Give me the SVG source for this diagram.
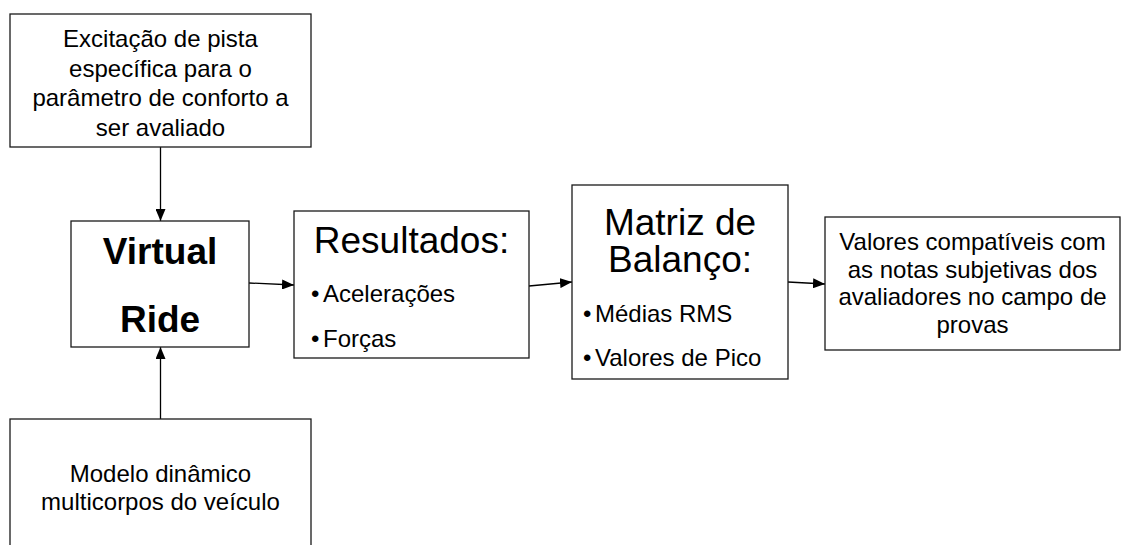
<svg xmlns="http://www.w3.org/2000/svg" width="1123" height="545" viewBox="0 0 1123 545">
<style>
.box{fill:#fff;stroke:#1a1a1a;stroke-width:1.3}
.t{font-family:"Liberation Sans",Arial,sans-serif;font-size:24px;fill:#000}
.c{text-anchor:middle}
.big{font-size:37px}
.b{font-weight:bold;font-size:37px}
.ln{stroke:#000;stroke-width:1.3;fill:none}
</style>
<defs>
<marker id="ah" markerWidth="12" markerHeight="10" refX="12" refY="5" orient="auto" markerUnits="userSpaceOnUse">
<path d="M0,0 L12,5 L0,10 Z" fill="#000"/>
</marker>
</defs>
<rect width="1123" height="545" fill="#fff"/>
<g id="connectors">
<line class="ln" x1="160.5" y1="147" x2="160.5" y2="221" marker-end="url(#ah)"/>
<line class="ln" x1="160.5" y1="419" x2="160.5" y2="347" marker-end="url(#ah)"/>
<line class="ln" x1="249" y1="283" x2="294" y2="285" marker-end="url(#ah)"/>
<line class="ln" x1="529" y1="286" x2="572" y2="282" marker-end="url(#ah)"/>
<line class="ln" x1="788" y1="282" x2="825" y2="284" marker-end="url(#ah)"/>
</g>
<g id="excitacao">
<rect class="box" x="10" y="14" width="301" height="133"/>
<text class="t c" x="160.5" y="47">Excitação de pista</text>
<text class="t c" x="160.5" y="76.5">específica para o</text>
<text class="t c" x="160.5" y="106">parâmetro de conforto a</text>
<text class="t c" x="160.5" y="135.5">ser avaliado</text>
</g>
<g id="virtual-ride">
<rect class="box" x="71" y="221" width="178" height="126"/>
<text class="t c b" x="160" y="264">Virtual</text>
<text class="t c b" x="160" y="332">Ride</text>
</g>
<g id="modelo">
<rect class="box" x="10" y="419" width="301" height="140"/>
<text class="t c" x="160.5" y="482">Modelo dinâmico</text>
<text class="t c" x="160.5" y="510">multicorpos do veículo</text>
</g>
<g id="resultados">
<rect class="box" x="294" y="211" width="235" height="147"/>
<text class="t c big" x="411.5" y="253">Resultados:</text>
<text class="t" x="311" y="302">•<tspan x="323">Acelerações</tspan></text>
<text class="t" x="311" y="347">•<tspan x="323">Forças</tspan></text>
</g>
<g id="matriz">
<rect class="box" x="572" y="185" width="216" height="194"/>
<text class="t c big" x="680" y="235">Matriz de</text>
<text class="t c big" x="680" y="272">Balanço:</text>
<text class="t" x="583" y="322">•<tspan x="595">Médias RMS</tspan></text>
<text class="t" x="583" y="366">•<tspan x="595">Valores de Pico</tspan></text>
</g>
<g id="valores">
<rect class="box" x="825" y="217" width="295" height="133"/>
<text class="t c" x="972.5" y="250">Valores compatíveis com</text>
<text class="t c" x="972.5" y="278">as notas subjetivas dos</text>
<text class="t c" x="972.5" y="305">avaliadores no campo de</text>
<text class="t c" x="972.5" y="333">provas</text>
</g>
</svg>
